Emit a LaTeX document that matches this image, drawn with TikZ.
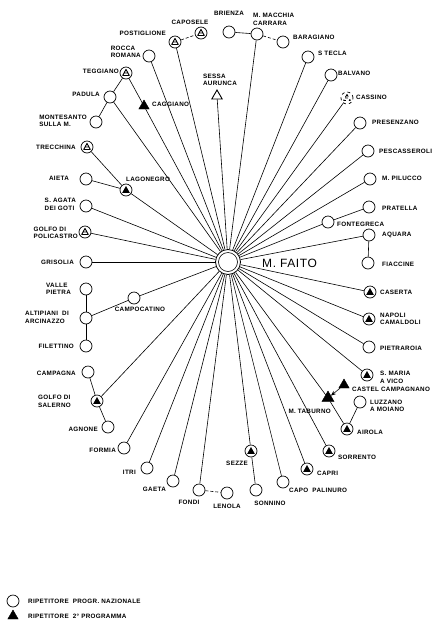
\documentclass[tikz,border=0pt]{standalone}
\usepackage{fontspec}
\setmainfont{Liberation Sans}[LetterSpace=5]
\usetikzlibrary{shapes.geometric,arrows.meta}

\tikzset{
  lbl/.style={font=\fontsize{6.3}{7.6}\selectfont\bfseries, inner sep=0pt, align=left},
  rep/.style={circle, draw, line width=0.7pt, minimum size=12pt, inner sep=0pt},
  % relay carrying the second programme as well (filled triangle in circle)
  repB/.style={rep, path picture={\fill[shift={(path picture bounding box.center)}]
      (0pt,4pt) -- (-3.8pt,-2.8pt) -- (3.8pt,-2.8pt) -- cycle;}},
  % same, drawn in outline
  repO/.style={rep, path picture={\draw[line width=0.9pt, line join=round, shift={(path picture bounding box.center)}]
      (0pt,3.6pt) -- (-3.3pt,-2.5pt) -- (3.3pt,-2.5pt) -- cycle
      (-1.8pt,0pt) -- (1.8pt,0pt);}},
  tri/.style={regular polygon, regular polygon sides=3, fill, draw, minimum size=12pt, inner sep=0pt},
  triO/.style={regular polygon, regular polygon sides=3, draw, line width=0.9pt, minimum size=12pt, inner sep=0pt},
  hub/.style={circle, draw, line width=0.8pt, minimum size=25pt, inner sep=0pt},
  conn/.style={line width=0.6pt},
  dconn/.style={conn, dash pattern=on 3pt off 2pt},
}

\begin{document}
\begin{tikzpicture}[x=1pt, y=-1pt]
\useasboundingbox[fill=white] (0,0) rectangle (439,622);

% ---- central station ----
\node[hub] (fai) at (228,262) {};
\draw[line width=0.6pt] (fai.center) circle (9.5pt);
\node[font=\fontsize{12}{14}\selectfont, inner sep=0pt, anchor=west] (faiL) at (262,263) {M. FAITO};

% ---- relay stations ----
\node[repO] (caposele) at (201,33) {};
\node[repO] (postiglione) at (175,42) {};
\node[rep] (rocca) at (149,56) {};
\node[repO] (teggiano) at (126,73) {};
\node[rep] (padula) at (110,97) {};
\node[rep] (montesano) at (96,122) {};
\node[tri] (caggiano) at (144,106) {};
\node[triO] (sessa) at (217,96) {};
\node[rep] (brienza) at (229,32) {};
\node[rep] (macchia) at (257,34) {};
\node[rep] (baragiano) at (283,42) {};
\node[rep] (stecla) at (308,57) {};
\node[rep] (balvano) at (331,75) {};
\node[repO, dashed] (cassino) at (347,98) {};
\node[rep] (presenzano) at (360,123) {};
\node[rep] (pescasseroli) at (368,151) {};
\node[rep] (pilucco) at (370,179) {};
\node[rep] (pratella) at (369,207) {};
\node[rep] (fontegreca) at (328,222) {};
\node[rep] (aquara) at (369,235) {};
\node[rep] (fiaccine) at (368,263) {};
\node[repB] (caserta) at (370,292) {};
\node[repB] (napoli) at (369,319) {};
\node[rep] (pietraroia) at (369,347) {};
\node[repB] (smaria) at (367,375) {};
\node[tri] (castel) at (344,385) {};
\node[tri, minimum size=14pt] (taburno) at (328,398) {};
\node[rep] (luzzano) at (360,402) {};
\node[repB] (airola) at (347,429) {};
\node[repB] (sorrento) at (329,451) {};
\node[repB] (capri) at (307,469) {};
\node[rep] (palinuro) at (283,482) {};
\node[rep] (sonnino) at (256,490) {};
\node[repB] (sezze) at (251,451) {};
\node[rep] (lenola) at (227,493) {};
\node[rep] (fondi) at (199,490) {};
\node[rep] (gaeta) at (173,481) {};
\node[rep] (itri) at (147,468) {};
\node[rep] (formia) at (124,448) {};
\node[rep] (agnone) at (108,427) {};
\node[repB] (salerno) at (97,401) {};
\node[rep] (campagna) at (88,372) {};
\node[rep] (filettino) at (86,346) {};
\node[rep] (altipiani) at (86,318) {};
\node[rep] (valle) at (86,289) {};
\node[rep] (campocatino) at (134,298) {};
\node[rep] (grisolia) at (86,262) {};
\node[repO] (policastro) at (85,232) {};
\node[rep] (sagata) at (86,206) {};
\node[rep] (aieta) at (86,179) {};
\node[repB] (lagonegro) at (126,190) {};
\node[repO] (trecchina) at (87,147) {};

% ---- labels ----
\node[lbl] (caposeleL) at (190,22) {CAPOSELE};
\node[lbl, anchor=east] (postiglioneL) at (166,33) {POSTIGLIONE};
\node[lbl, anchor=east] (roccaL) at (141,52) {ROCCA\\ROMANA};
\node[lbl, anchor=east] (teggianoL) at (119,71) {TEGGIANO};
\node[lbl, anchor=east] (padulaL) at (100,94) {PADULA};
\node[lbl, anchor=east] (montesanoL) at (87,121) {MONTESANTO\\SULLA M.};
\node[lbl, anchor=west] (caggianoL) at (152,104) {CAGGIANO};
\node[lbl] (sessaL) at (220,80) {SESSA\\AURUNCA};
\node[lbl] (brienzaL) at (229,13) {BRIENZA};
\node[lbl, anchor=west] (macchiaL) at (253,19.5) {M. MACCHIA\\CARRARA};
\node[lbl, anchor=west] (baragianoL) at (293,37) {BARAGIANO};
\node[lbl, anchor=west] (steclaL) at (318,53) {S TECLA};
\node[lbl, anchor=west] (balvanoL) at (338,73) {BALVANO};
\node[lbl, anchor=west] (cassinoL) at (356,97) {CASSINO};
\node[lbl, anchor=west] (presenzanoL) at (372,122) {PRESENZANO};
\node[lbl, anchor=west] (pescasseroliL) at (379,151) {PESCASSEROLI};
\node[lbl, anchor=west] (piluccoL) at (382,178) {M. PILUCCO};
\node[lbl, anchor=west] (pratellaL) at (382,208) {PRATELLA};
\node[lbl, anchor=west] (fontegrecaL) at (337,224) {FONTEGRECA};
\node[lbl, anchor=west] (aquaraL) at (382,235) {AQUARA};
\node[lbl, anchor=west] (fiaccineL) at (382,264) {FIACCINE};
\node[lbl, anchor=west] (casertaL) at (380,292) {CASERTA};
\node[lbl, anchor=west] (napoliL) at (380,319) {NAPOLI\\CAMALDOLI};
\node[lbl, anchor=west] (pietraroiaL) at (380,348) {PIETRAROIA};
\node[lbl, anchor=west] (smariaL) at (380,377.5) {S. MARIA\\A VICO};
\node[lbl, anchor=west] (castelL) at (352,389) {CASTEL CAMPAGNANO};
\node[lbl, anchor=east] (taburnoL) at (331,411) {M. TABURNO};
\node[lbl, anchor=west] (luzzanoL) at (370,406) {LUZZANO\\A MOIANO};
\node[lbl, anchor=west] (airolaL) at (357,432) {AIROLA};
\node[lbl, anchor=west] (sorrentoL) at (338,457) {SORRENTO};
\node[lbl, anchor=west] (capriL) at (317,473) {CAPRI};
\node[lbl, anchor=west] (palinuroL) at (289,490) {CAPO\ \ PALINURO};
\node[lbl] (sonninoL) at (270,503) {SONNINO};
\node[lbl, anchor=east] (sezzeL) at (248,463) {SEZZE};
\node[lbl] (lenolaL) at (227,506) {LENOLA};
\node[lbl] (fondiL) at (189,502) {FONDI};
\node[lbl, anchor=east] (gaetaL) at (166,489) {GAETA};
\node[lbl, anchor=east] (itriL) at (136,472) {ITRI};
\node[lbl, anchor=east] (formiaL) at (116,450) {FORMIA};
\node[lbl, anchor=east] (agnoneL) at (98,429) {AGNONE};
\node[lbl, anchor=east] (salernoL) at (71,401.5) {GOLFO DI\\SALERNO};
\node[lbl, anchor=east] (campagnaL) at (76,373) {CAMPAGNA};
\node[lbl, anchor=east] (filettinoL) at (74,346) {FILETTINO};
\node[lbl, anchor=east] (altipianiL) at (69,317.5) {ALTIPIANI\ \ DI\\ARCINAZZO};
\node[lbl, anchor=east] (valleL) at (71,289) {VALLE\\PIETRA};
\node[lbl] (campocatinoL) at (140,309) {CAMPOCATINO};
\node[lbl, anchor=east] (grisoliaL) at (74,262) {GRISOLIA};
\node[lbl, anchor=east] (policastroL) at (78,233) {GOLFO DI\\POLICASTRO};
\node[lbl, anchor=east] (sagataL) at (76,204.5) {S. AGATA\\DEI GOTI};
\node[lbl, anchor=east] (aietaL) at (69,178) {AIETA};
\node[lbl] (lagonegroL) at (148,179) {LAGONEGRO};
\node[lbl, anchor=east] (trecchinaL) at (76,147) {TRECCHINA};

% ---- links to the central station ----
\foreach \s in {postiglione, rocca, caggiano, padula, sessa, macchia, stecla, balvano,
  cassino, presenzano, pescasseroli, pilucco, fontegreca, aquara, caserta, napoli,
  pietraroia, smaria, taburno, sorrento, capri, palinuro, sezze, fondi, gaeta, itri,
  formia, salerno, campocatino, grisolia, policastro, sagata, lagonegro}
  \draw[conn] (fai) -- (\s);

% ---- secondary links ----
\draw[dconn] (postiglione) -- (caposele);
\draw[conn] (teggiano) -- (padula);
\draw[conn] (padula) -- (montesano);
\draw[conn] (teggiano) -- (caggiano);
\draw[conn] (brienza) -- (macchia);
\draw[dconn] (macchia) -- (baragiano);
\draw[conn] (pratella) -- (fontegreca);
\draw[conn] (aquara) -- (fiaccine);
\draw[conn, -{Stealth[length=5pt,width=4pt]}] (castel) -- (taburno);
\draw[conn] (taburno) -- (airola);
\draw[conn] (luzzano) -- (airola);
\draw[conn] (sezze) -- (sonnino);
\draw[dconn] (fondi) -- (lenola);
\draw[conn] (campagna) -- (salerno);
\draw[conn] (salerno) -- (agnone);
\draw[conn] (valle) -- (altipiani);
\draw[conn] (altipiani) -- (filettino);
\draw[conn] (altipiani) -- (campocatino);
\draw[conn] (trecchina) -- (lagonegro);
\draw[conn] (aieta) -- (lagonegro);

% ---- legend ----
\node[rep] (legC) at (13,601) {};
\node[tri] (legT) at (13,616) {};
\node[lbl, anchor=west] (legCL) at (28,601) {RIPETITORE\ \ PROGR. NAZIONALE};
\node[lbl, anchor=west] (legTL) at (28,616) {RIPETITORE\ \ 2° PROGRAMMA};
\end{tikzpicture}
\end{document}
